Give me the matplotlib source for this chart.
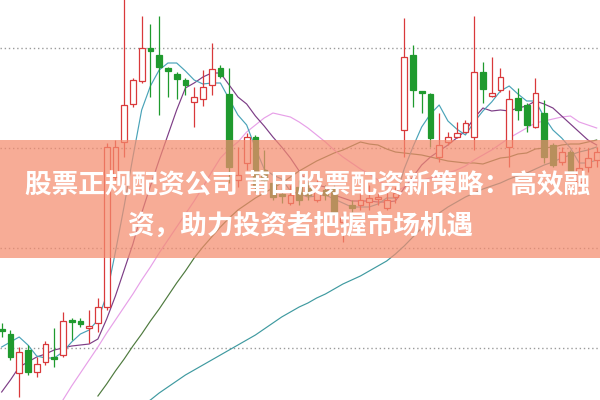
import numpy as np
import matplotlib
matplotlib.use("Agg")
import matplotlib.pyplot as plt
from matplotlib.patches import Rectangle

nan = np.nan

opens = [10.19, 10.14, 9.75, 9.98, 9.76, 9.86, 9.91, 9.93, 10.28, 10.27,
         10.20, 10.25, 10.41, 11.71, 12.06, 12.44, 12.67, 13.00, 12.93, 12.80,
         12.74, 12.68, 12.46, 12.49, 12.63, 12.80, 12.54, 11.68, 11.85, 12.11,
         11.78, 11.65, 11.54, 11.45, 11.61, 11.60, 11.48, 11.58, 11.59, 11.26,
         11.43, 11.43, 11.46, 11.49, 11.40, 11.51, 12.18, 12.93, 12.57, 12.54,
         11.91, 12.06, 12.11, 12.16, 12.11, 12.76, 12.52, 12.58, 12.01, 12.50,
         12.43, 12.21, 12.35, 12.03, 11.86, 11.96, 11.66, 11.81, 11.88]
highs = [10.25, 10.18, 10.01, 10.03, 9.91, 10.07, 10.20, 10.36, 10.30, 10.30,
         10.38, 10.50, 12.05, 12.08, 13.50, 12.70, 13.32, 13.24, 13.32, 12.81,
         12.76, 12.70, 12.61, 12.78, 13.05, 12.83, 12.80, 12.01, 12.15, 12.13,
         11.98, 11.75, 11.61, 11.63, 11.68, 11.66, 11.68, 11.63, 11.63, 11.35,
         11.48, 11.58, 11.63, 11.55, 11.56, 11.61, 13.30, 13.03, 12.57, 12.55,
         12.35, 12.16, 12.26, 12.28, 13.32, 12.86, 12.91, 12.80, 12.58, 12.60,
         12.45, 12.70, 12.48, 12.05, 12.01, 11.98, 12.01, 12.00, 12.01]
lows = [10.11, 9.88, 9.51, 9.73, 9.71, 9.83, 9.81, 9.91, 10.08, 10.21,
        10.05, 10.16, 10.38, 11.68, 11.91, 12.41, 12.65, 12.51, 12.33, 12.51,
        12.49, 12.53, 12.21, 12.42, 12.53, 12.70, 11.65, 11.61, 11.78, 11.56,
        11.58, 11.48, 11.45, 11.43, 11.43, 11.48, 11.46, 11.48, 11.33, 11.06,
        11.36, 11.38, 11.38, 11.43, 11.38, 11.45, 11.91, 12.41, 12.35, 12.01,
        11.86, 12.03, 12.10, 12.15, 11.98, 12.45, 12.51, 12.56, 11.81, 12.28,
        12.16, 12.20, 11.85, 11.81, 11.83, 11.76, 11.61, 11.76, 11.81]
closes = [10.17, 9.91, 9.96, 9.76, 9.84, 10.04, 9.89, 10.27, 10.26, 10.24,
          10.22, 10.41, 12.01, 12.01, 12.43, 12.68, 13.00, 12.97, 12.81, 12.77,
          12.69, 12.63, 12.51, 12.61, 12.79, 12.72, 11.81, 11.73, 12.11, 11.63,
          11.68, 11.51, 11.52, 11.53, 11.48, 11.53, 11.56, 11.53, 11.35, 11.30,
          11.40, 11.48, 11.50, 11.51, 11.48, 11.55, 12.91, 12.58, 12.55, 12.10,
          12.03, 12.11, 12.15, 12.25, 12.76, 12.59, 12.55, 12.71, 12.49, 12.38,
          12.23, 12.55, 11.91, 11.83, 11.96, 11.76, 11.80, 11.90, 11.96]

ma5 = [10.01, 10.06, 10.11, 10.03, 9.92, 9.90, 9.90, 9.96, 10.06, 10.14,
       10.18, 10.28, 10.53, 10.96, 11.42, 11.91, 12.38, 12.62, 12.78, 12.85,
       12.85, 12.77, 12.68, 12.64, 12.65, 12.65, 12.49, 12.33, 12.23, 12.00,
       11.79, 11.73, 11.69, 11.57, 11.54, 11.51, 11.52, 11.53, 11.49, 11.45,
       11.41, 11.41, 11.41, 11.44, 11.50, 11.50, 11.79, 12.01, 12.21, 12.34,
       12.43, 12.27, 12.19, 12.13, 12.26, 12.37, 12.46, 12.57, 12.62, 12.54,
       12.47, 12.47, 12.31, 12.18, 12.10, 12.00, 11.85, 11.85, 11.88]
ma10 = [9.56, 9.68, 9.81, 9.86, 9.91, 9.94, 9.98, 10.00, 10.02, 10.03,
        10.04, 10.09, 10.29, 10.52, 10.78, 11.04, 11.35, 11.62, 11.88, 12.13,
        12.38, 12.60, 12.65, 12.71, 12.75, 12.75, 12.63, 12.51, 12.44, 12.32,
        12.22, 12.11, 12.01, 11.90, 11.77, 11.65, 11.63, 11.61, 11.53, 11.50,
        11.47, 11.47, 11.47, 11.46, 11.46, 11.47, 11.60, 11.71, 11.83, 11.91,
        11.97, 12.03, 12.10, 12.17, 12.30, 12.40, 12.37, 12.38, 12.37, 12.40,
        12.42, 12.47, 12.44, 12.40, 12.32, 12.24, 12.16, 12.08, 12.03]
ma20 = [nan] * 7 + [
        9.48, 9.62, 9.75, 9.88, 10.01, 10.15, 10.28, 10.41, 10.54, 10.68,
        10.81, 10.95, 11.08, 11.21, 11.34, 11.47, 11.61, 11.76, 11.90, 11.99,
        12.06, 12.16, 12.23, 12.30, 12.35, 12.33, 12.31, 12.26, 12.20, 12.13,
        12.06, 11.98, 11.91, 11.85, 11.79, 11.74, 11.68, 11.62, 11.56, 11.61,
        11.66, 11.68, 11.70, 11.72, 11.75, 11.78, 11.82, 11.88, 11.93, 11.98,
        12.04, 12.10, 12.15, 12.20, 12.25, 12.27, 12.29, 12.31, 12.32, 12.26,
        12.23, 12.20]
ma30 = [nan] * 11 + [
        9.52, 9.64, 9.77, 9.89, 10.02, 10.14, 10.27, 10.39, 10.52, 10.65,
        10.77, 10.90, 11.01, 11.11, 11.21, 11.30, 11.38, 11.44, 11.50, 11.55,
        11.60, 11.65, 11.71, 11.77, 11.82, 11.87, 11.91, 11.95, 11.98, 12.02,
        12.06, 12.04, 12.03, 11.99, 11.96, 11.95, 11.94, 11.93, 11.91, 11.89,
        11.87, 11.86, 11.85, 11.85, 11.84, 11.87, 11.90, 11.91, 11.94, 11.95,
        11.99, 12.00, 12.01, 12.03, 12.04, 12.04, 12.06, 12.08]
ma60 = [nan] * 16 + [
        9.43, 9.48, 9.55, 9.61, 9.67, 9.73, 9.78, 9.83, 9.88, 9.93,
        9.98, 10.03, 10.08, 10.13, 10.19, 10.25, 10.31, 10.36, 10.41, 10.45,
        10.50, 10.54, 10.59, 10.64, 10.68, 10.72, 10.77, 10.82, 10.87, 10.94,
        11.02, 11.11, 11.20, 11.28, 11.35, 11.41, 11.46, 11.51, 11.55, 11.59,
        11.62, 11.65, 11.69, 11.72, 11.75, 11.79, 11.83, 11.86, 11.90, 11.93,
        11.96, 11.98, 12.01]

grid_levels = [10.0, 11.0, 12.0, 13.0]
title_lines = ["股票正规配资公司 莆田股票配资新策略：高效融", "资，助力投资者把握市场机遇"]

UP = "#d9393b"
DOWN = "#1f9a2e"

fig = plt.figure(figsize=(6, 4), dpi=100)
ax = fig.add_axes([0, 0, 1, 1])
ax.set_xlim(-0.19, 68.38)
ax.set_ylim(9.48, 13.48)
ax.axis("off")

for g in grid_levels:
    ax.axhline(g, color="#9a9a9a", lw=1.0, ls=(0, (1, 2)), zorder=1)

x = np.arange(len(closes))
ma_specs = [(ma60, "#3f9aa0"), (ma30, "#4e7a3e"), (ma20, "#e7a0e8"),
            (ma10, "#7d3d86"), (ma5, "#4aa3b8")]
for vals, col in ma_specs:
    ax.plot(x, vals, color=col, lw=0.85, zorder=3)

w = 0.66
for i in range(len(closes)):
    o, h, l, c = opens[i], highs[i], lows[i], closes[i]
    up = c >= o
    col = UP if up else DOWN
    ax.vlines(i, l, h, color=col, lw=0.9, zorder=4)
    bot = min(o, c)
    ht = max(abs(c - o), 0.02)
    if up:
        ax.add_patch(Rectangle((i - w / 2, bot), w, ht, facecolor="white",
                               edgecolor=col, lw=0.9, zorder=5))
    else:
        ax.add_patch(Rectangle((i - w / 2, bot), w, ht, facecolor=col,
                               edgecolor=col, lw=0.9, zorder=5))

# banner spanning y pixels 140..258
fig.patches.append(Rectangle((0, 1 - 258 / 400), 1, (258 - 140) / 400,
                             transform=fig.transFigure, facecolor="#f48c6e",
                             alpha=0.72, edgecolor="none", zorder=10))

fam = ["Noto Sans CJK SC", "DejaVu Sans"]
fig.text(0.513, 1 - 185 / 400, title_lines[0], ha="center", va="center",
         fontsize=19.2, fontweight="bold", color="white", family=fam, zorder=11)
fig.text(0.5, 1 - 226 / 400, title_lines[1], ha="center", va="center",
         fontsize=19.2, fontweight="bold", color="white", family=fam, zorder=11)

fig.savefig("out.png", dpi=100)
